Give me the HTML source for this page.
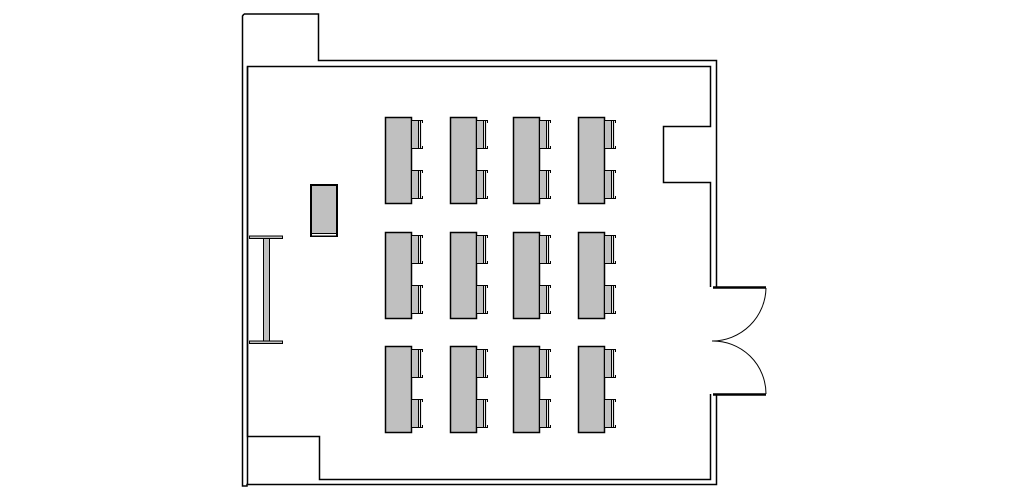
<!DOCTYPE html>
<html><head><meta charset="utf-8"><style>
html,body{margin:0;padding:0;background:#fff;}
svg{display:block;}
</style></head><body>
<svg width="1010" height="500" viewBox="0 0 1010 500" xmlns="http://www.w3.org/2000/svg">
<defs>
<g id="chair">
<rect x="0.5" y="0.5" width="7" height="28" fill="#c0c0c0" stroke="#000" stroke-width="1"/>
<line x1="9.5" y1="1" x2="9.5" y2="28" stroke="#000" stroke-width="1.2"/>
<line x1="7" y1="0.5" x2="12" y2="0.5" stroke="#000" stroke-width="1"/>
<line x1="7" y1="28.5" x2="12" y2="28.5" stroke="#000" stroke-width="1"/>
<line x1="11.5" y1="0.5" x2="11.5" y2="3" stroke="#000" stroke-width="1"/>
<line x1="11.5" y1="26" x2="11.5" y2="28.5" stroke="#000" stroke-width="1"/>
</g>
<g id="desk">
<rect x="0.5" y="0.5" width="26" height="86" fill="#c0c0c0" stroke="#000" stroke-width="1.5"/>
<use href="#chair" x="26" y="3"/>
<use href="#chair" x="26" y="53"/>
</g>
</defs>
<g fill="none" stroke="#000" stroke-width="1.5">
<!-- outer -->
<polyline points="244,14 318.5,14 318.5,60.5 716.5,60.5 716.5,287"/>
<polyline points="244,14 242.5,16 242.5,486 247,486 247,484.5 716.5,484.5 716.5,394"/>
<!-- inner -->
<polyline points="247.5,484 247.5,66.5 710.5,66.5 710.5,126.5 663.5,126.5 663.5,182.5 710.5,182.5 710.5,287"/>
<polyline points="247.5,66.5 247.5,436.5 319.5,436.5 319.5,479.5 710.5,479.5 710.5,394"/>
</g>
<!-- door -->
<g fill="none" stroke="#000">
<line x1="713" y1="287.5" x2="766" y2="287.5" stroke-width="2.5"/>
<line x1="713" y1="394.5" x2="766" y2="394.5" stroke-width="2.5"/>
<path d="M766,288 A54,54 0 0 1 712,341" stroke-width="1"/>
<path d="M766,394 A53,53 0 0 0 712,341" stroke-width="1"/>
</g>
<!-- podium -->
<rect x="311" y="185" width="26" height="51" fill="#c0c0c0" stroke="#000" stroke-width="2"/>
<line x1="311" y1="233.5" x2="337" y2="233.5" stroke="#000" stroke-width="1"/>
<rect x="312" y="234" width="24" height="1.5" fill="#fff"/>
<!-- screen -->
<rect x="249.5" y="236" width="33" height="2.5" fill="#c0c0c0" stroke="#000" stroke-width="1"/>
<rect x="249.5" y="341" width="33" height="2.5" fill="#c0c0c0" stroke="#000" stroke-width="1"/>
<rect x="263.5" y="238.5" width="6" height="102.5" fill="#c0c0c0" stroke="#000" stroke-width="1"/>
<!-- desks -->
<use href="#desk" x="385" y="117"/>
<use href="#desk" x="450" y="117"/>
<use href="#desk" x="513" y="117"/>
<use href="#desk" x="578" y="117"/>
<use href="#desk" x="385" y="232"/>
<use href="#desk" x="450" y="232"/>
<use href="#desk" x="513" y="232"/>
<use href="#desk" x="578" y="232"/>
<use href="#desk" x="385" y="346"/>
<use href="#desk" x="450" y="346"/>
<use href="#desk" x="513" y="346"/>
<use href="#desk" x="578" y="346"/>
</svg>
</body></html>
